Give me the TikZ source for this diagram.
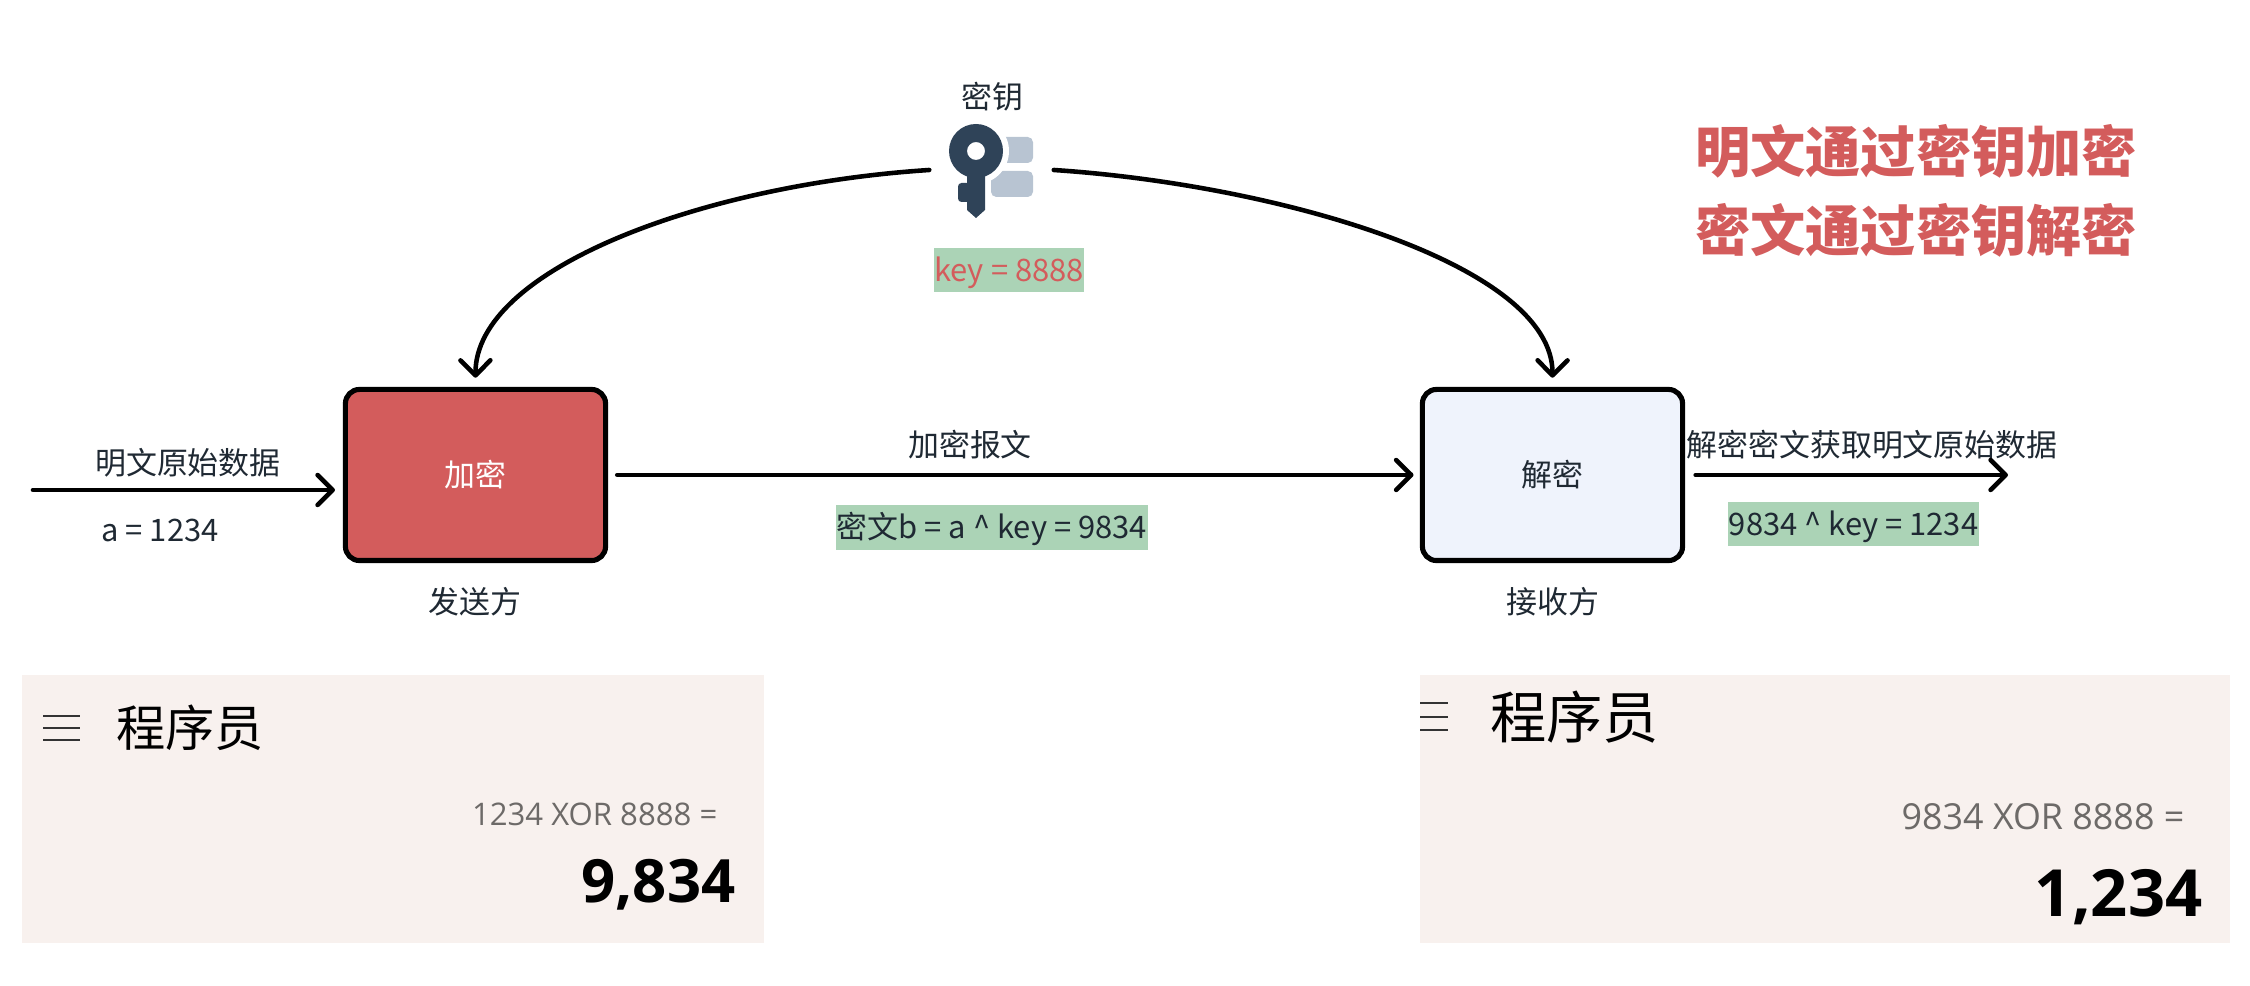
\documentclass[tikz,border=0pt]{standalone}
\usepackage{fontspec}
\setmainfont{Noto Sans CJK SC}
\newfontfamily\calcfont{Open Sans}
\usetikzlibrary{arrows.meta}
\definecolor{KeyRed}{RGB}{211,92,92}
\definecolor{KeyGreen}{RGB}{171,211,182}
\definecolor{KeyNavy}{RGB}{47,67,88}
\definecolor{KeySlate}{RGB}{184,196,210}
\definecolor{PanelBg}{RGB}{248,241,238}
\definecolor{DecFill}{RGB}{239,243,252}
\definecolor{InkGray}{RGB}{31,41,51}
\definecolor{CalcGray}{RGB}{109,106,104}

\begin{document}
\begin{tikzpicture}[
      x=0.01cm, y=-0.01cm,
      box/.style={rectangle, rounded corners=4pt, draw=black, line width=1.45pt,
                  minimum width=2.6cm, minimum height=1.71cm, inner sep=0pt,
                  font=\fontsize{8.8}{10}\selectfont},
      lbl/.style={inner sep=0pt, text=InkGray, font=\fontsize{8.8}{10}\selectfont},
      hilite/.style={lbl, fill=KeyGreen, minimum height=0.44cm, text height=8pt, text depth=1.6pt},
      headline/.style={inner sep=0pt, text=KeyRed, font=\fontsize{15.7}{18}\bfseries\selectfont},
      panel/.style={fill=PanelBg, minimum height=2.68cm, inner sep=0pt},
      flow/.style={-{Straight Barb[length=4.3pt, width=8.5pt, round]}, line width=1.3pt,
                   line cap=round}
    ]
    \useasboundingbox (0,0) rectangle (2250,986);

    % Key icon
    \fill[KeySlate, rounded corners=1.5pt] (995,137) rectangle (1033,163);
    \fill[KeySlate, rounded corners=1.5pt] (991,171) rectangle (1033,197);
    \fill[white] (976,151) circle (33);
    \fill[white] (961,170) rectangle (988,215);
    \fill[KeyNavy, even odd rule] (976,151) circle (27) (976,151) circle (9);
    \fill[KeyNavy] (967,170) -- (985,170) -- (985,210) -- (976,218) -- (967,210) -- cycle;
    \fill[KeyNavy, rounded corners=1pt] (958,183) rectangle (970,202);
    \node[minimum width=1.23cm, minimum height=0.2cm, inner sep=0pt] (keyIcon) at (991.5,170) {};
    \node[lbl] (keyTitle) at (992,97) {密钥};
    \node[hilite, text=KeyRed, minimum width=1.5cm] (keyValue) at (1009,270) {key = 8888};

    % Headline
    \node[headline] (lineOne) at (1916,151) {明文通过密钥加密};
    \node[headline] (lineTwo) at (1916,230) {密文通过密钥解密};

    % Sender and receiver
    \node[box, fill=KeyRed, text=white] (encBox) at (475.5,475) {加密};
    \node[box, fill=DecFill, text=InkGray] (decBox) at (1552.5,475) {解密};
    \node[lbl] (sender) at (475,602) {发送方};
    \node[lbl] (receiver) at (1553,602) {接收方};

    % Plain text side
    \coordinate (plainIn) at (33,490);
    \coordinate (plainEnd) at (335,490);
    \coordinate (plainOut) at (2008,475);
    \node[lbl] (plainLabel) at (188,463) {明文原始数据};
    \node[lbl] (plainValue) at (160,530) {a = 1234};

    % Cipher text
    \node[lbl] (cipherLabel) at (970,445) {加密报文};
    \node[hilite, minimum width=3.12cm] (cipherValue) at (992,527.5) {密文b = a \^{} key = 9834};
    \node[lbl] (resultLabel) at (1872,445) {解密密文获取明文原始数据};
    \node[hilite, minimum width=2.51cm] (resultValue) at (1853.5,524) {9834 \^{} key = 1234};

    % Arrows
    \draw[flow] (plainIn) -- (plainEnd);
    \draw[flow, shorten <=2.6pt, shorten >=1.8pt] (encBox.east) -- (decBox.west);
    \draw[flow, shorten <=3pt] (decBox.east) -- (plainOut);
    \draw[flow] (keyIcon.west) .. controls (700,185) and (475,270) .. ([yshift=2.6pt]encBox.north);
    \draw[flow] (keyIcon.east) .. controls (1280,185) and (1553,265) .. ([yshift=2.6pt]decBox.north);

    % Calculator panels
    \node[panel, minimum width=7.42cm] (calcLeft) at (393,809) {};
    \node[panel, minimum width=8.10cm] (calcRight) at (1825,809) {};
    \foreach \y in {716,728,740} {
      \draw[black!80, line width=0.4pt] (43,\y) -- (80,\y);
    }
    \foreach \y in {703,717,730} {
      \draw[black!80, line width=0.7pt] (1420,\y) -- (1448,\y);
    }
    \node[inner sep=0pt, font=\fontsize{14}{16}\selectfont] (titleLeft) at (190,728) {程序员};
    \node[inner sep=0pt, font=\fontsize{16}{18}\selectfont] (titleRight) at (1574.5,717) {程序员};
    \node[inner sep=0pt, anchor=east, text=CalcGray, font=\calcfont\fontsize{8.85}{10}\selectfont]
      (exprLeft) at (718,814) {1234 XOR 8888 =};
    \node[inner sep=0pt, anchor=east, text=CalcGray, font=\calcfont\fontsize{10.2}{12}\selectfont]
      (exprRight) at (2185,817) {9834 XOR 8888 =};
    \node[inner sep=0pt, anchor=east, font=\calcfont\fontsize{17}{20}\bfseries\selectfont]
      (sumLeft) at (736,885) {9,834};
    \node[inner sep=0pt, anchor=east, font=\calcfont\fontsize{18.5}{22}\bfseries\selectfont]
      (sumRight) at (2203,897) {1,234};
  \end{tikzpicture}
\end{document}
